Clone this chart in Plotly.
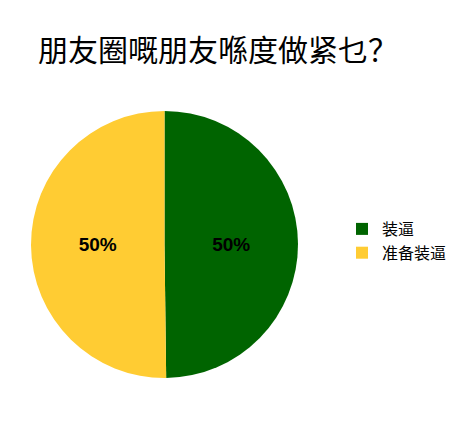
import plotly.graph_objects as go

labels = ['装逼', '准备装逼']
values = [49.8, 50.2]
colors = ['#006400', '#FFCC33']

fig = go.Figure(data=go.Pie(
    labels=labels,
    values=values,
    sort=False,
    direction='clockwise',
    rotation=0,
    marker=dict(colors=colors, line=dict(width=0)),
    textinfo='percent',
    texttemplate='%{percent:.0%}',
    insidetextorientation='horizontal',
    textfont=dict(family='Arial', size=19, color='black', weight='bold'),
    domain=dict(x=[23 / 460, 290 / 460], y=[1 - 370 / 435, 1 - 103 / 435]),
    hoverinfo='label+percent',
))

fig.update_layout(
    width=460,
    height=435,
    margin=dict(l=0, r=0, t=0, b=0),
    paper_bgcolor='white',
    plot_bgcolor='white',
    title=dict(
        text='朋友圈嘅朋友喺度做紧乜？',
        x=30 / 460,
        xanchor='left',
        y=1 - 42 / 435,
        yanchor='middle',
        font=dict(family='Noto Sans CJK SC', size=30, color='black'),
    ),
    legend=dict(
        x=334 / 460,
        xanchor='left',
        y=1 - 233 / 435,
        yanchor='middle',
        font=dict(family='Noto Sans CJK SC', size=16, color='black'),
        itemwidth=30,
        tracegroupgap=0,
    ),
    showlegend=True,
)

fig.write_html('out.html')
